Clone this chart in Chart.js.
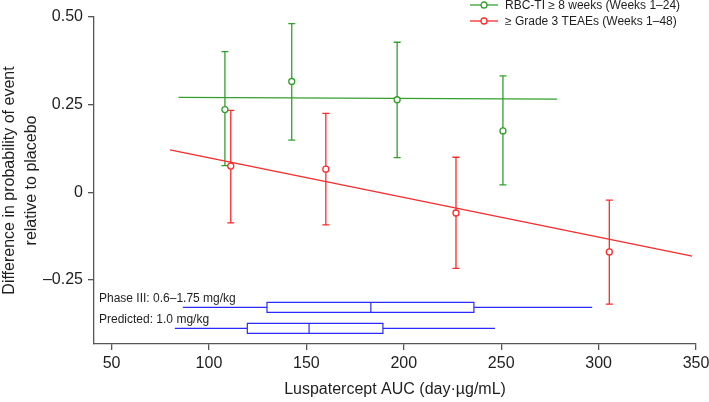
<!DOCTYPE html>
<html>
<head>
<meta charset="utf-8">
<script src="https://cdn.jsdelivr.net/npm/chart.js@4.4.1/dist/chart.umd.min.js"></script>
<style>
  html, body { margin: 0; padding: 0; background: #fff; }
  #wrap { width: 709px; height: 402px; position: relative; }
</style>
</head>
<body>
<div id="wrap"><canvas id="aucChart"></canvas></div>
<script>
// ==================== Data ====================
const seriesNames = ['RBC-TI \u2265 8 weeks (Weeks 1\u201324)', '\u2265 Grade 3 TEAEs (Weeks 1\u201348)'];

// RBC-TI >= 8 weeks: quartile means with 95% CI, plus fitted line
const greenX = [108.2, 142.5, 196.6, 250.9];
const greenY = [0.236, 0.316, 0.264, 0.175];
const greenLow = [0.076, 0.149, 0.099, 0.021];
const greenHigh = [0.401, 0.481, 0.428, 0.332];
const greenFitX = [84.4, 278.7];
const greenFitY = [0.271, 0.266];

// >= Grade 3 TEAEs
const redX = [111.2, 160.0, 226.8, 305.5];
const redY = [0.075, 0.066, -0.059, -0.170];
const redLow = [-0.087, -0.093, -0.217, -0.319];
const redHigh = [0.234, 0.225, 0.100, -0.022];
const redFitX = [80.0, 348.0];
const redFitY = [0.121, -0.182];

// AUC distributions (box plots)
const boxLabels = ['Phase III: 0.6\u20131.75 mg/kg', 'Predicted: 1.0 mg/kg'];
const boxMin = [86.6, 82.5];
const boxQ1 = [129.8, 119.7];
const boxMedian = [183.1, 151.4];
const boxQ3 = [236.0, 189.3];
const boxMax = [296.7, 246.8];
const boxY = [-0.328, -0.388];

// Axes
const xTicks = [50, 100, 150, 200, 250, 300, 350];
const yTicks = [-0.25, 0, 0.25, 0.5];
const yTickLabels = ['\u20130.25', '0', '0.25', '0.50'];
const xTitle = 'Luspatercept AUC (day\u00b7\u00b5g/mL)';
const yTitle = ['Difference in probability of event', 'relative to placebo'];

// ==================== Styles ====================
const GREEN = '#33a02c';
const RED = '#ff2a2a';
const BLUE = '#2b2bff';
const AXIS = '#555555';
const TEXT = '#1e1e1e';
const FONT = '"Liberation Sans", Arial, Helvetica, sans-serif';

Chart.defaults.font.family = FONT;
Chart.defaults.color = TEXT;

function toPoints(xs, ys) {
    return xs.map((v, i) => ({ x: v, y: ys[i] }));
}

// ==================== Overlay plugin ====================
function drawErrorBars(ctx, xs, ys, xVals, lows, highs, color) {
    ctx.strokeStyle = color;
    xVals.forEach((v, i) => {
        const px = xs.getPixelForValue(v);
        const top = ys.getPixelForValue(highs[i]);
        const bot = ys.getPixelForValue(lows[i]);
        ctx.beginPath();
        ctx.moveTo(px, top);
        ctx.lineTo(px, bot);
        ctx.moveTo(px - 3.5, top);
        ctx.lineTo(px + 3.5, top);
        ctx.moveTo(px - 3.5, bot);
        ctx.lineTo(px + 3.5, bot);
        ctx.stroke();
    });
}

const overlayPlugin = {
    id: 'overlay',
    beforeDatasetsDraw(chart) {
        const { ctx, chartArea, scales: { x, y } } = chart;
        ctx.save();
        ctx.lineWidth = 1.3;
        drawErrorBars(ctx, x, y, greenX, greenLow, greenHigh, GREEN);
        drawErrorBars(ctx, x, y, redX, redLow, redHigh, RED);

        // box plots
        ctx.strokeStyle = BLUE;
        ctx.lineWidth = 1.2;
        boxLabels.forEach((label, i) => {
            const cy = y.getPixelForValue(boxY[i]);
            const h = 5;
            const pMin = x.getPixelForValue(boxMin[i]);
            const pQ1 = x.getPixelForValue(boxQ1[i]);
            const pMed = x.getPixelForValue(boxMedian[i]);
            const pQ3 = x.getPixelForValue(boxQ3[i]);
            const pMax = x.getPixelForValue(boxMax[i]);
            ctx.beginPath();
            ctx.moveTo(pMin, cy);
            ctx.lineTo(pQ1, cy);
            ctx.moveTo(pQ3, cy);
            ctx.lineTo(pMax, cy);
            ctx.rect(pQ1, cy - h, pQ3 - pQ1, 2 * h);
            ctx.moveTo(pMed, cy - h);
            ctx.lineTo(pMed, cy + h);
            ctx.stroke();

            ctx.fillStyle = TEXT;
            ctx.font = '12px ' + FONT;
            ctx.textAlign = 'left';
            ctx.textBaseline = 'alphabetic';
            ctx.fillText(label, chartArea.left + 5, cy - 5.5);
        });
        ctx.restore();
    },
    afterDraw(chart) {
        // legend (line + open circle sample)
        const { ctx } = chart;
        const colors = [GREEN, RED];
        ctx.save();
        ctx.font = '12px ' + FONT;
        ctx.textBaseline = 'middle';
        ctx.textAlign = 'left';
        seriesNames.forEach((name, i) => {
            const cy = 5 + i * 16;
            ctx.strokeStyle = colors[i];
            ctx.lineWidth = 1.3;
            ctx.beginPath();
            ctx.moveTo(470, cy);
            ctx.lineTo(498, cy);
            ctx.stroke();
            ctx.beginPath();
            ctx.arc(484, cy, 3, 0, Math.PI * 2);
            ctx.fillStyle = '#fff';
            ctx.fill();
            ctx.stroke();
            ctx.fillStyle = TEXT;
            ctx.fillText(name, 505, cy + 0.5);
        });
        ctx.restore();
    }
};

// ==================== Chart ====================
const ctx = document.getElementById('aucChart').getContext('2d');

const aucChart = new Chart(ctx, {
    type: 'scatter',
    data: {
        datasets: [
            {
                label: seriesNames[0] + ' fit',
                data: toPoints(greenFitX, greenFitY),
                showLine: true,
                borderColor: GREEN,
                borderWidth: 1.3,
                pointRadius: 0,
                order: 3
            },
            {
                label: seriesNames[1] + ' fit',
                data: toPoints(redFitX, redFitY),
                showLine: true,
                borderColor: RED,
                borderWidth: 1.3,
                pointRadius: 0,
                order: 3
            },
            {
                label: seriesNames[0],
                data: toPoints(greenX, greenY),
                pointRadius: 3,
                pointBorderWidth: 1.3,
                borderColor: GREEN,
                backgroundColor: '#fff',
                order: 1
            },
            {
                label: seriesNames[1],
                data: toPoints(redX, redY),
                pointRadius: 3,
                pointBorderWidth: 1.3,
                borderColor: RED,
                backgroundColor: '#fff',
                order: 1
            }
        ]
    },
    options: {
        responsive: true,
        maintainAspectRatio: false,
        animation: false,
        layout: { padding: { top: 17, right: 13, left: 0, bottom: 0 } },
        plugins: {
            legend: { display: false },
            tooltip: { enabled: false }
        },
        scales: {
            x: {
                type: 'linear',
                min: 41,
                max: 350,
                afterBuildTicks: s => { s.ticks = xTicks.map(v => ({ value: v })); },
                afterFit: s => { s.height = 58; s.paddingLeft = 0; s.paddingRight = 0; },
                grid: { display: true, drawOnChartArea: false, drawTicks: true, tickLength: 6, color: AXIS, lineWidth: 1.3 },
                border: { display: true, color: AXIS, width: 1.3 },
                ticks: { padding: 4, color: TEXT, font: { size: 16 }, maxRotation: 0, callback: v => String(v) },
                title: { display: true, text: xTitle, color: TEXT, font: { size: 16 }, padding: { top: 0, bottom: 3 } }
            },
            y: {
                type: 'linear',
                min: -0.4325,
                max: 0.5,
                afterBuildTicks: s => { s.ticks = yTicks.map(v => ({ value: v })); },
                afterFit: s => { s.width = 94; s.paddingTop = 0; s.paddingBottom = 0; },
                grid: { display: true, drawOnChartArea: false, drawTicks: true, tickLength: 6, color: AXIS, lineWidth: 1.3 },
                border: { display: true, color: AXIS, width: 1.3 },
                ticks: { padding: 5, color: TEXT, font: { size: 16 }, callback: v => yTickLabels[yTicks.indexOf(v)] },
                title: { display: true, text: yTitle, color: TEXT, font: { size: 16, lineHeight: 1.375 }, padding: { top: -1, bottom: 0 } }
            }
        }
    },
    plugins: [overlayPlugin]
});
</script>
</body>
</html>
